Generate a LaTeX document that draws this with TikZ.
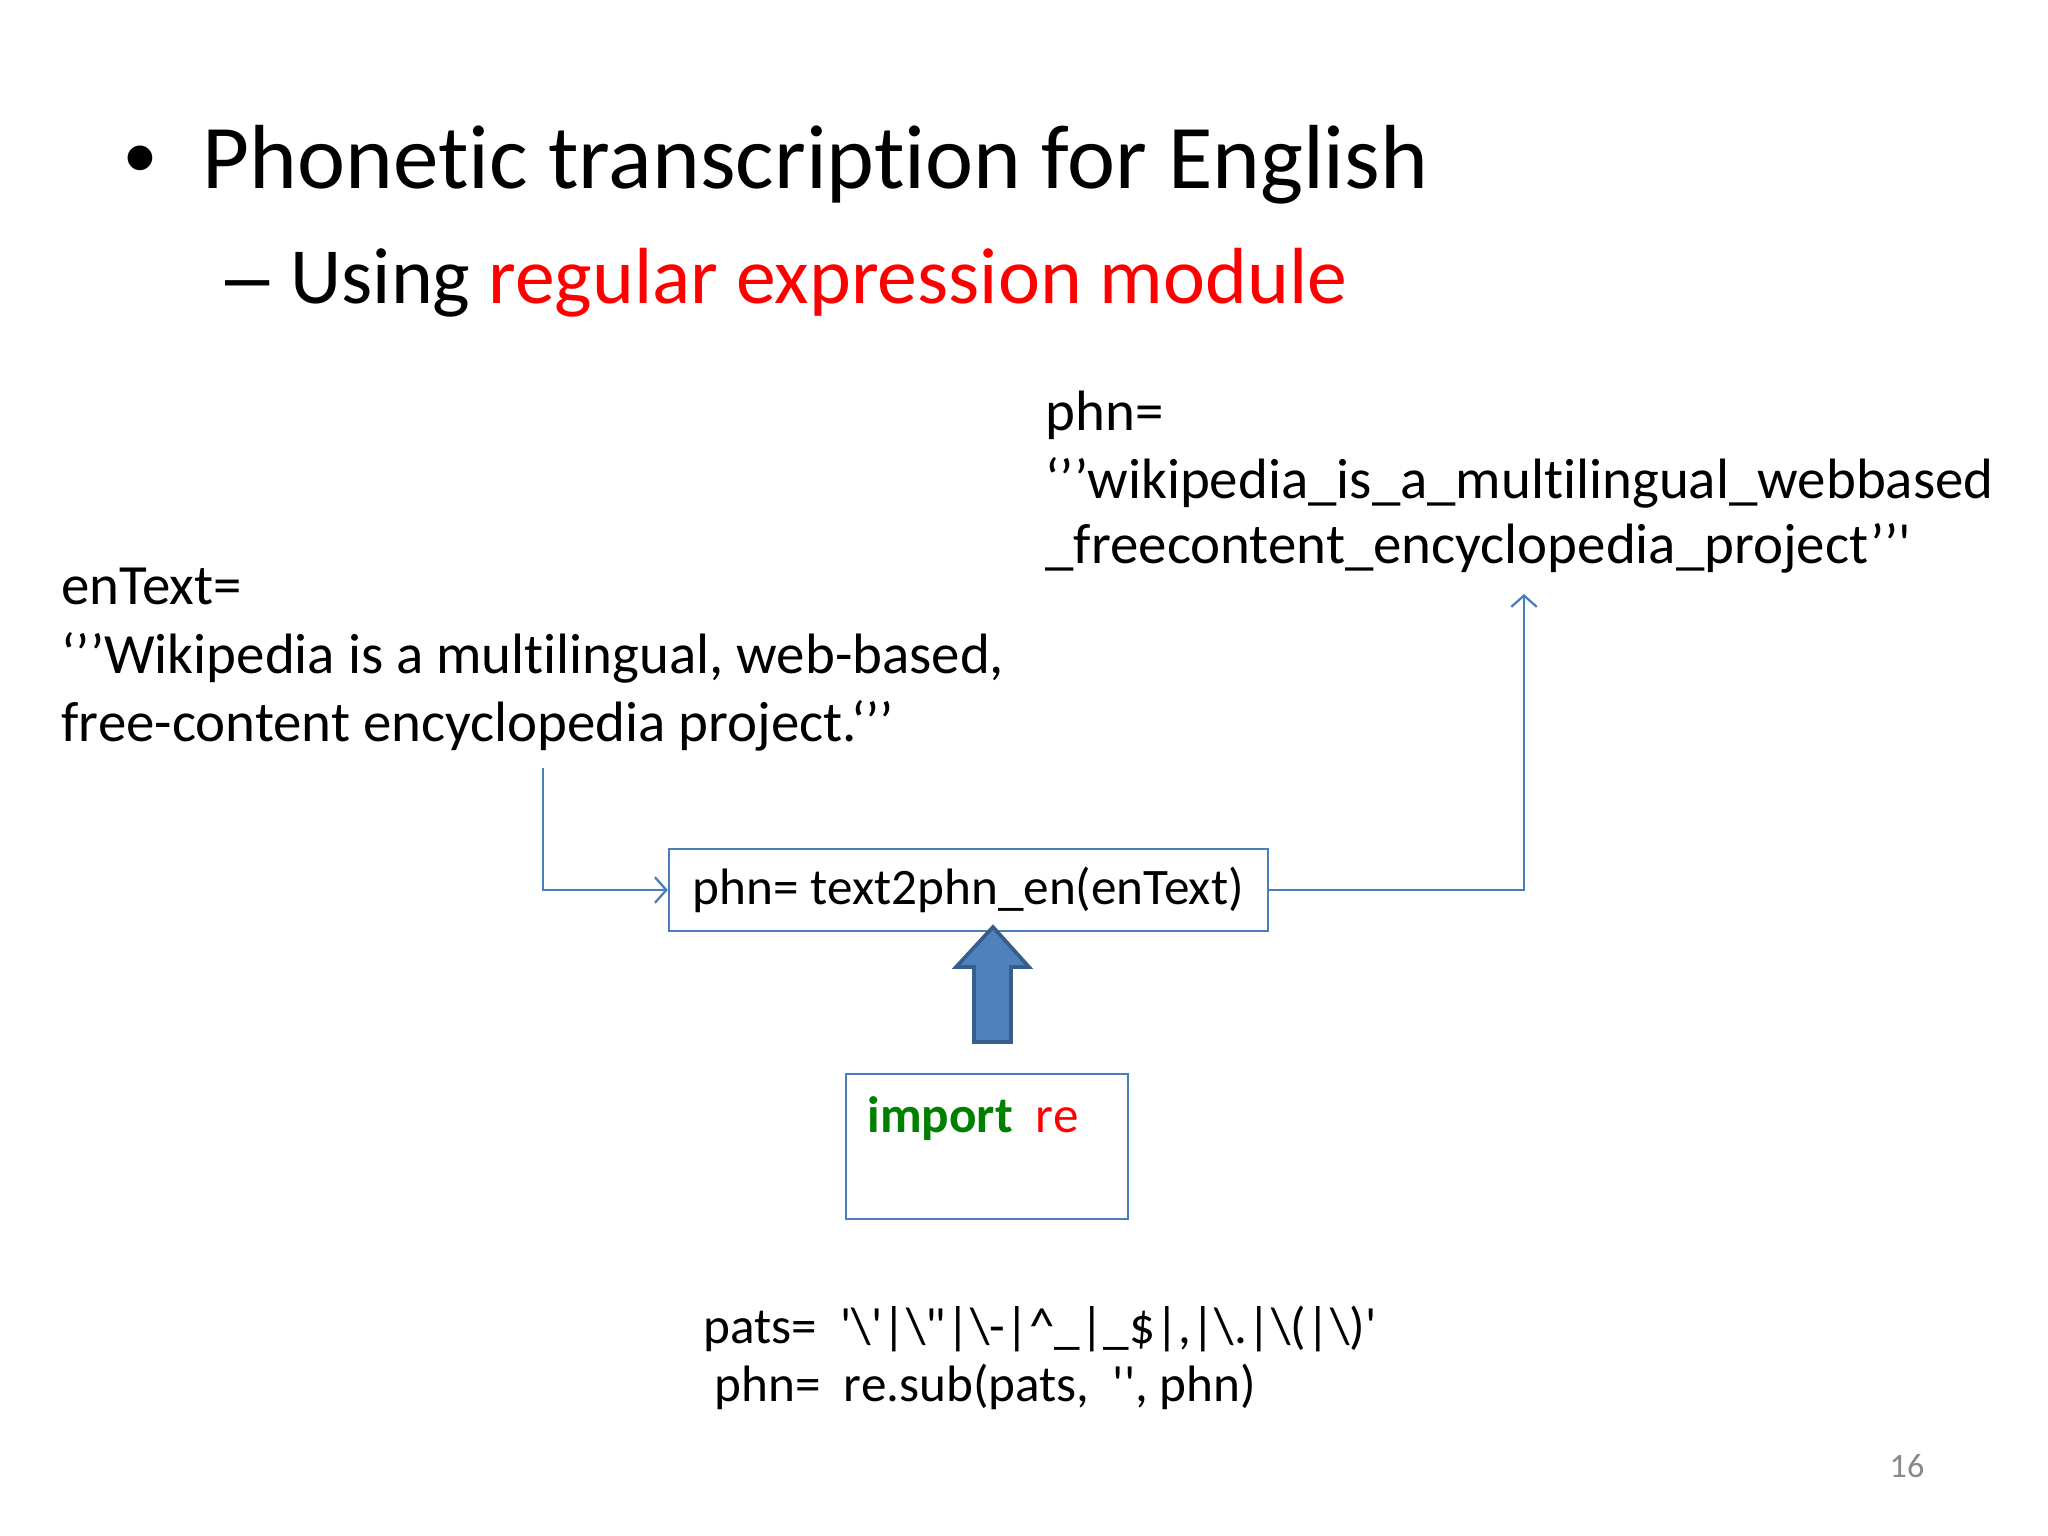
\documentclass[tikz,border=0pt]{standalone}
\usepackage{fontspec}
\setmainfont{Carlito}[Ligatures={TeXOff,NoCommon}]
\newfontfamily\arialish{Liberation Sans}[Ligatures=TeXOff]
\usetikzlibrary{arrows.meta}
\definecolor{lineblue}{HTML}{4A7EBB}
\definecolor{arrowfill}{HTML}{4F81BD}
\definecolor{arrowedge}{HTML}{385D8A}
\definecolor{kwgreen}{HTML}{008000}
\definecolor{pagegray}{HTML}{898989}
\begin{document}
\begin{tikzpicture}[x=0.3515625pt,y=-0.3515625pt,
  txt/.style={inner sep=0pt, anchor=base west, font=\fontsize{20}{24}\selectfont},
  code/.style={inner sep=0pt, anchor=base west, font=\fontsize{18}{22}\selectfont},
  conn/.style={draw=lineblue, line width=0.8pt, -{Straight Barb[length=4pt,width=9pt]}},
  boxed/.style={draw=lineblue, line width=0.8pt, inner sep=0pt, font=\fontsize{18}{22}\selectfont}]
\useasboundingbox (0,0) rectangle (2048,1536);
\fill[white] (0,0) rectangle (2048,1536);
% title
\node[inner sep=0pt, anchor=base, font=\arialish\fontsize{32}{38}\selectfont] (bul) at (140,189) {•};
\node[inner sep=0pt, anchor=base west, font=\fontsize{32}{38}\selectfont] (title) at (202,189) {Phonetic transcription for English};
\node[inner sep=0pt, anchor=base, font=\arialish\fontsize{28}{34}\selectfont] (dash) at (248,304) {–};
\node[inner sep=0pt, anchor=base west, font=\fontsize{28}{34}\selectfont] (sub) at (290,304) {Using \textcolor{red}{regular expression module}};
% phn result
\node[txt] (p1) at (1045,431) {phn=};
\node[txt] (p2) at (1045,499) {‘’’wikipedia\_is\_a\_multilingual\_webbased};
\node[txt] (p3) at (1045,564) {\_freecontent\_encyclopedia\_project’’'};
% enText
\node[txt] (e1) at (61,605) {enText=};
\node[txt] (e2) at (61,673) {‘’’Wikipedia is a multilingual, web-based,};
\node[txt] (e3) at (61,741) {free-content encyclopedia project.‘’’};
% main box
\node[boxed, minimum width=210.6pt, minimum height=28.8pt] (main) at (968.5,890) {phn= text2phn\_en(enText)};
\coordinate (cin) at (543,768);
\coordinate (cout) at (1524,594);
\draw[conn] (cin) |- (main.west);
\draw[conn] (main.east) -| (cout);
% import box
\node[boxed, minimum width=99.1pt, minimum height=51pt] (imp) at (987,1146.5) {};
\node[code] (imptxt) at (867,1132) {\textcolor{kwgreen}{\bfseries import}\ \ \textcolor{red}{re}};
% block arrow
\draw[fill=arrowfill, draw=arrowedge, line width=1.3pt, line join=miter]
  (993,927) -- (1029,967) -- (1011,967) -- (1011,1042) -- (974,1042) -- (974,967) -- (956,967) -- cycle;
% code
\node[code] (c1) at (703,1343) {pats=\ \ '\textbackslash'|\textbackslash"|\textbackslash-|\textasciicircum\_|\_\$|,|\textbackslash.|\textbackslash(|\textbackslash)'};
\node[code] (c2) at (714,1401) {phn=\ \ re.sub(pats,\ \ '', phn)};
% page number
\node[inner sep=0pt, font=\fontsize{12}{14}\selectfont, text=pagegray] (pg) at (1907,1466) {16};
\end{tikzpicture}
\end{document}
